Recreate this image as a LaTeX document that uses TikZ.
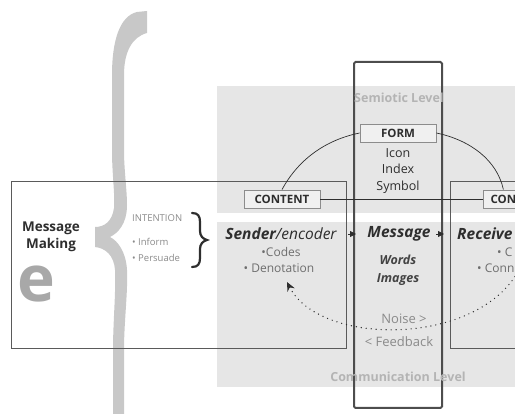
\documentclass[tikz,border=0pt]{standalone}
\usepackage{fontspec}
\setmainfont{Open Sans}
\usetikzlibrary{arrows.meta,calc}
\definecolor{panel}{HTML}{E6E6E6}
\definecolor{bracegray}{HTML}{C8C8C8}
\definecolor{linegray}{HTML}{5A5A5A}
\definecolor{boxline}{HTML}{8C8C8C}
\definecolor{boxfill}{HTML}{F0F0F0}
\definecolor{darktext}{HTML}{2E2E2E}
\definecolor{midtext}{HTML}{6E6E6E}
\definecolor{lighttext}{HTML}{8A8A8A}
\definecolor{leveltext}{HTML}{B4B4B4}
\definecolor{egray}{HTML}{A8A8A8}
\newcommand\fsz[2]{\fontsize{#1}{#2}\selectfont}
\begin{document}
\begin{tikzpicture}[x=1pt,y=-1pt,
  txt/.style={inner sep=0pt, align=center},
  levellabel/.style={txt, text=leveltext, font=\fsz{12.5}{15}\bfseries},
  tagbox/.style={draw=boxline, fill=boxfill, line width=0.8pt, inner sep=0pt,
     minimum width=76pt, minimum height=18pt, text=darktext, font=\fsz{11.5}{14}\bfseries},
  mainlabel/.style={txt, text=darktext, font=\fsz{15.5}{18}\bfseries\itshape},
  sublabel/.style={txt, text=midtext, font=\fsz{12}{15}},
  smalllabel/.style={txt, text=lighttext, font=\fsz{9.5}{11}, anchor=west},
  frame/.style={draw=linegray, line width=1pt},
  thinline/.style={draw=darktext, line width=0.7pt},
  tipline/.style={draw=darktext, line width=0.8pt, -{Triangle[length=6pt,width=6pt]}},
  fbline/.style={draw=darktext, line width=1.4pt, line cap=round, dash pattern=on 0pt off 5pt,
     -{Stealth[length=9pt,width=8pt]}}
]
\useasboundingbox (0,0) rectangle (515,414);
\clip (0,0) rectangle (515,414);

% grey level panels
\fill[panel] (217,86) rectangle (530,213);
\fill[panel] (217,222) rectangle (530,387);

% large grey curly brace
\fill[bracegray] (147,11) -- (137,12) .. controls (120,16) and (112,40) .. (112,75)
  -- (112,150) .. controls (112,175) and (115,192) .. (114,208)
  .. controls (112,222) and (104,227) .. (95,227)
  -- (95,247)
  .. controls (105,248) and (114,255) .. (115,270)
  .. controls (116,292) and (113,322) .. (113,350) -- (113,420)
  -- (124,420) -- (124,350) .. controls (124,322) and (128,292) .. (127,270)
  .. controls (126,252) and (118,241) .. (110,237)
  .. controls (118,233) and (127,224) .. (127,205)
  .. controls (127,190) and (124,170) .. (124,150) -- (124,75)
  .. controls (124,52) and (132,37) .. (147,33) -- cycle;

% sender / receiver frames
\draw[frame] (11,182) rectangle (346,349);
\draw[frame] (450,182) rectangle (540,349);

% central message column
\draw[draw=darktext!85, line width=2pt, rounded corners=1.5pt] (354,62) rectangle (442,408);

% level labels
\node[levellabel] (semio) at (399,98) {Semiotic Level};
\node[levellabel] (commu) at (398,377) {Communication Level};

% form / content
\node[tagbox] (form) at (398,133) {FORM};
\node[txt, text=darktext, font=\fsz{12.5}{16.5}] (signs) at (398,171) {Icon\\Index\\Symbol};
\node[tagbox] (cl) at (282,199) {CONTENT};
\node[tagbox, minimum width=40pt, anchor=west] (cr) at (483,199) {CON};

\draw[thinline] (cl.north) .. controls (298,160) and (325,140) .. (form.west);
\draw[thinline] (form.east) .. controls (470,140) and (497,160) .. (cr.north);
\draw[thinline] (cl.east) -- (cr.west);

% left part
\node[txt, text=darktext, font=\fsz{13.5}{17}\bfseries] (mm) at (51,237) {Message\\Making};
\node[txt, text=egray, font=\fsz{64}{70}\bfseries] (e) at (36,284) {e};
\node[smalllabel] (intent) at (132,218) {INTENTION};
\node[smalllabel] (inform) at (132,242) {• Inform};
\node[smalllabel] (persuade) at (132,258) {• Persuade};
\coordinate (bT) at (192,213);
\coordinate (bB) at (192,267);
\draw[draw=darktext, line width=2.2pt, line cap=round]
  (bT) .. controls (198,213) and (200,216) .. (200,222) -- (200,231)
  .. controls (200,236) and (203,239) .. (207,240)
  .. controls (203,241) and (200,244) .. (200,249) -- (200,258)
  .. controls (200,264) and (198,267) .. (bB);

% communication row
\node[mainlabel] (send) at (281,234) {Sender\mdseries/encoder};
\node[mainlabel] (msg) at (399,234) {Message};
\node[mainlabel, anchor=west] (recv) at (457,234) {Receive};
\coordinate (s1) at (348,234);
\coordinate (s2) at (356,234);
\coordinate (m1) at (436,234);
\coordinate (m2) at (444,234);
\draw[tipline] (s1) -- (s2);
\draw[tipline] (m1) -- (m2);

\node[sublabel] (codes) at (281,252) {•Codes};
\node[sublabel] (denot) at (279,268) {• Denotation};
\node[sublabel, anchor=west] (codesr) at (497,252) {• C};
\node[sublabel, anchor=west] (connot) at (477,268) {• Conn};

\node[txt, text=darktext!90, font=\fsz{12.5}{18}\bfseries\itshape] (wi) at (398,270) {Words\\Images};

\node[txt, text=lighttext, font=\fsz{13}{15}] (noise) at (404,319) {Noise >};
\node[txt, text=lighttext, font=\fsz{13}{15}] (feed) at (399,342) {< Feedback};

\coordinate (fbR) at (520,268);
\coordinate (fbL) at (287,282);
\draw[fbline] (fbR) .. controls (480,347) and (320,347) .. (fbL);
\end{tikzpicture}
\end{document}
